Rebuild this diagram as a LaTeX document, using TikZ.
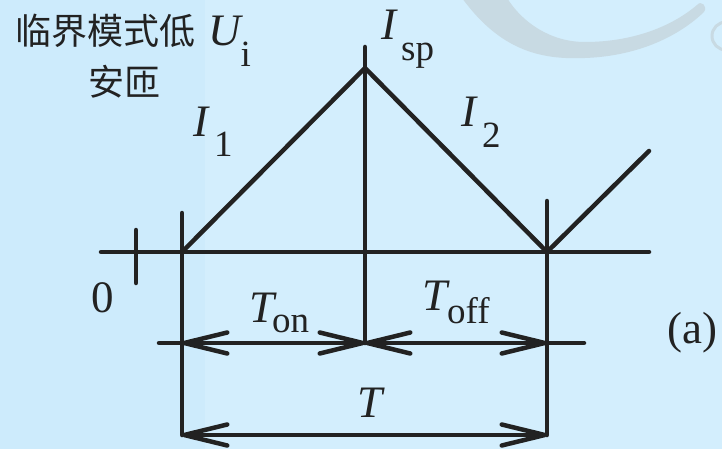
\documentclass[tikz,border=0pt]{standalone}
\usepackage{fontspec}
\setmainfont{Liberation Serif}[Ligatures=TeX]
\newfontfamily\lserif{Liberation Serif}
\newfontfamily\cjk{Noto Sans CJK SC}
\usetikzlibrary{arrows.meta}
\definecolor{ink}{HTML}{222222}
\definecolor{bgleft}{HTML}{CDEBFC}
\definecolor{bgright}{HTML}{D3EEFD}
\definecolor{wm}{HTML}{C8DAE3}
\newcommand\mysub[2]{\raisebox{-#1}{\lserif\fontsize{37}{44}\selectfont #2}}
\newcommand\myit[1]{{\lserif\itshape #1}}
\tikzset{
  ln/.style={line width=4.5pt, draw=ink, line cap=round, line join=round},
  dim/.style={ln, {Straight Barb[length=43pt,width=21pt,round]}-{Straight Barb[length=43pt,width=21pt,round]}},
  lbl/.style={inner sep=0pt, anchor=base west, font=\lserif\fontsize{45}{54}\selectfont, text=ink},
  cn/.style={inner sep=0pt, anchor=west, font=\cjk\fontsize{36}{40}\selectfont, text=ink}
}
\begin{document}
\begin{tikzpicture}[x=1pt,y=-1pt]
\useasboundingbox (0,0) rectangle (722,449);
% background
\fill[bgleft] (0,0) rectangle (205,449);
\fill[bgright] (205,0) rectangle (722,449);
% watermark
\fill[wm] (462,-2) .. controls (500,50) and (540,60) .. (585,58)
  .. controls (640,56) and (680,35) .. (704,12)
  .. controls (708,6) and (701,0) .. (697,5)
  .. controls (670,28) and (630,42) .. (585,42)
  .. controls (550,42) and (522,22) .. (507,-2) -- cycle;
\draw[wm, line width=3pt] (726,36) circle (14);
% coordinates
\coordinate (O) at (182,252);
\coordinate (P) at (365,68);
\coordinate (Q) at (547,252);
\coordinate (R) at (649,151);
\coordinate (AL) at (101,252);
\coordinate (AR) at (649,252);
\coordinate (TK1) at (136,230);
\coordinate (TK2) at (136,283);
\coordinate (V1t) at (182,213);
\coordinate (V1b) at (182,435);
\coordinate (V2t) at (365,47);
\coordinate (V2b) at (365,343);
\coordinate (V3t) at (547,201);
\coordinate (V3b) at (547,435);
\coordinate (DL) at (159,343);
\coordinate (DR) at (584,343);
\coordinate (D1) at (182,343);
\coordinate (D3) at (547,343);
% axis and tick
\draw[ln] (AL) -- (AR);
\draw[ln] (TK1) -- (TK2);
% verticals
\draw[ln] (V1t) -- (V1b);
\draw[ln] (V2t) -- (V2b);
\draw[ln] (V3t) -- (V3b);
% waveform
\draw[ln] (O) -- (P) -- (Q) -- (R);
% dimension lines
\draw[ln] (DL) -- (DR);
\draw[dim] (D1) -- (V2b);
\draw[dim] (V2b) -- (D3);
\draw[dim] (V1b) -- (V3b);
% labels
\node[cn] (t1) at (15,31) {临界模式低};
\node[cn] (t2) at (88,82) {安匝};
\node[lbl] (ui) at (208,46) {\myit{U}\mysub{21pt}{i}};
\node[lbl] (i1) at (193,137) {\myit{I}\hspace{6pt}\mysub{20pt}{1}};
\node[lbl] (isp) at (381,40) {\myit{I}\hspace{5pt}\mysub{21pt}{sp}};
\node[lbl] (i2) at (461,127) {\myit{I}\hspace{6pt}\mysub{21pt}{2}};
\node[lbl] (zero) at (91,312) {0};
\node[lbl] (ton) at (249,322) {\myit{T}\hspace{-2pt}\mysub{10pt}{on}};
\node[lbl] (toff) at (422,310) {\myit{T}\hspace{0pt}\mysub{13pt}{off}};
\node[lbl] (tt) at (357,417) {\myit{T}};
\node[lbl] (a) at (667,343) {(a)};
\end{tikzpicture}
\end{document}
